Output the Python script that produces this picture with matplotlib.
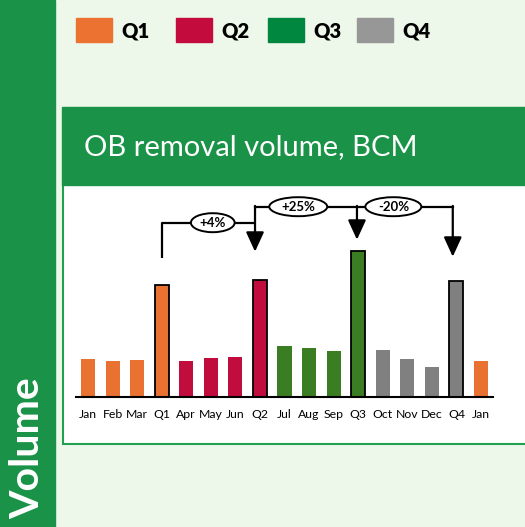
import matplotlib.pyplot as plt
from matplotlib.patches import Rectangle, Ellipse

plt.rcParams['font.family'] = ['Lato', 'DejaVu Sans']

W, H = 525, 527

months = ["Jan", "Feb", "Mar", "Q1", "Apr", "May", "Jun", "Q2",
          "Jul", "Aug", "Sep", "Q3", "Oct", "Nov", "Dec", "Q4", "Jan"]
volume = [38, 36, 37, 112, 36, 39, 40, 117, 51, 49, 46, 146, 47, 38, 30, 116, 36]
quarter = [1, 1, 1, 1, 2, 2, 2, 2, 3, 3, 3, 3, 4, 4, 4, 4, 1]
is_total = [m.startswith("Q") for m in months]

legend_labels = ["Q1", "Q2", "Q3", "Q4"]
legend_colors = ["#EC7232", "#C30B3D", "#00873F", "#979797"]
bar_colors = {1: "#E97132", 2: "#C00D3E", 3: "#3B7D23", 4: "#808080"}

changes = ["+4%", "+25%", "-20%"]
q_idx = [i for i, t in enumerate(is_total) if t]

green = "#1A9348"
bg = "#EEF8EA"


def fx(x):
    return x / W


def fy(y):
    return 1 - y / H


fig = plt.figure(figsize=(W / 100, H / 100), dpi=100, facecolor=bg)

# left strip
fig.patches.append(Rectangle((0, 0), fx(55), 1, transform=fig.transFigure,
                             color=green, zorder=-2))
fig.text(fx(28), fy(448), "Volume", rotation=90, ha="center", va="center",
         color="white", fontsize=29.5, fontweight="bold")

# legend
lx = [76, 176, 268, 357]
for x, lab, c in zip(lx, legend_labels, legend_colors):
    fig.patches.append(Rectangle((fx(x), fy(42)), fx(36), 24 / H,
                                 transform=fig.transFigure, color=c, zorder=-1))
    fig.text(fx(x + 45), fy(31), lab, ha="left", va="center",
             fontsize=14.5, fontweight="heavy", color="black")

# panel + title band
fig.patches.append(Rectangle((fx(63), fy(444)), fx(480), 260 / H,
                             transform=fig.transFigure, facecolor="white",
                             edgecolor="#22A052", lw=1.5, zorder=-1))
fig.patches.append(Rectangle((fx(62), fy(185)), fx(480), 78 / H,
                             transform=fig.transFigure, color=green, zorder=-1))
fig.text(fx(84), fy(147), "OB removal volume, BCM", ha="left", va="center",
         color="white", fontsize=21)

# chart axes: 1 y-unit = 1 pixel
ax = fig.add_axes([fx(75.7), fy(396.7), fx(493.3 - 75.7), 211.7 / H])
ax.set_facecolor("none")
ax.set_xlim(-0.5, len(months) - 0.5)
ax.set_ylim(0, 211.7)

for i, (v, q, t) in enumerate(zip(volume, quarter, is_total)):
    ec = "black" if t else "none"
    ax.bar(i, v, width=0.57, color=bar_colors[q], edgecolor=ec,
           linewidth=1.3 if t else 0, zorder=2)

for s in ["top", "right", "left"]:
    ax.spines[s].set_visible(False)
ax.spines["bottom"].set_linewidth(1.5)
ax.set_yticks([])
ax.set_xticks(range(len(months)))
ax.set_xticklabels(months, fontsize=8.8)
ax.tick_params(axis="x", length=0, pad=9)

# change annotations
lw = 1.6
low, high = 174, 190
ax_x = [q_idx[0], q_idx[1] - 0.2, q_idx[2] - 0.05, q_idx[3] - 0.15]
tips = [volume[q_idx[1]] + 28, volume[q_idx[2]] + 11, volume[q_idx[3]] + 24]

ax.plot([ax_x[0], ax_x[0], ax_x[1]], [volume[q_idx[0]] + 27, low, low],
        color="black", lw=lw, solid_capstyle="butt", zorder=3)
ax.plot([ax_x[1], ax_x[3]], [high, high], color="black", lw=lw, zorder=3)
arrow = dict(arrowstyle="-|>,head_length=1.2,head_width=0.55", color="black",
             lw=lw, mutation_scale=10, shrinkA=0, shrinkB=0)
for x, tip in zip(ax_x[1:], tips):
    ax.annotate("", xy=(x, tip), xytext=(x, high + 0.8), arrowprops=arrow,
                zorder=3)

label_x = [5.08, 8.56, 12.43]
label_y = [low, high, high]
label_w = [1.78, 2.36, 2.28]
for x, y, w, txt in zip(label_x, label_y, label_w, changes):
    ax.add_patch(Ellipse((x, y), w, 19, facecolor="white", edgecolor="black",
                         lw=1.4, zorder=4))
    ax.text(x, y, txt, ha="center", va="center", fontsize=9.5,
            fontweight="bold", zorder=5)

fig.savefig("out.png", dpi=100, facecolor=bg)
